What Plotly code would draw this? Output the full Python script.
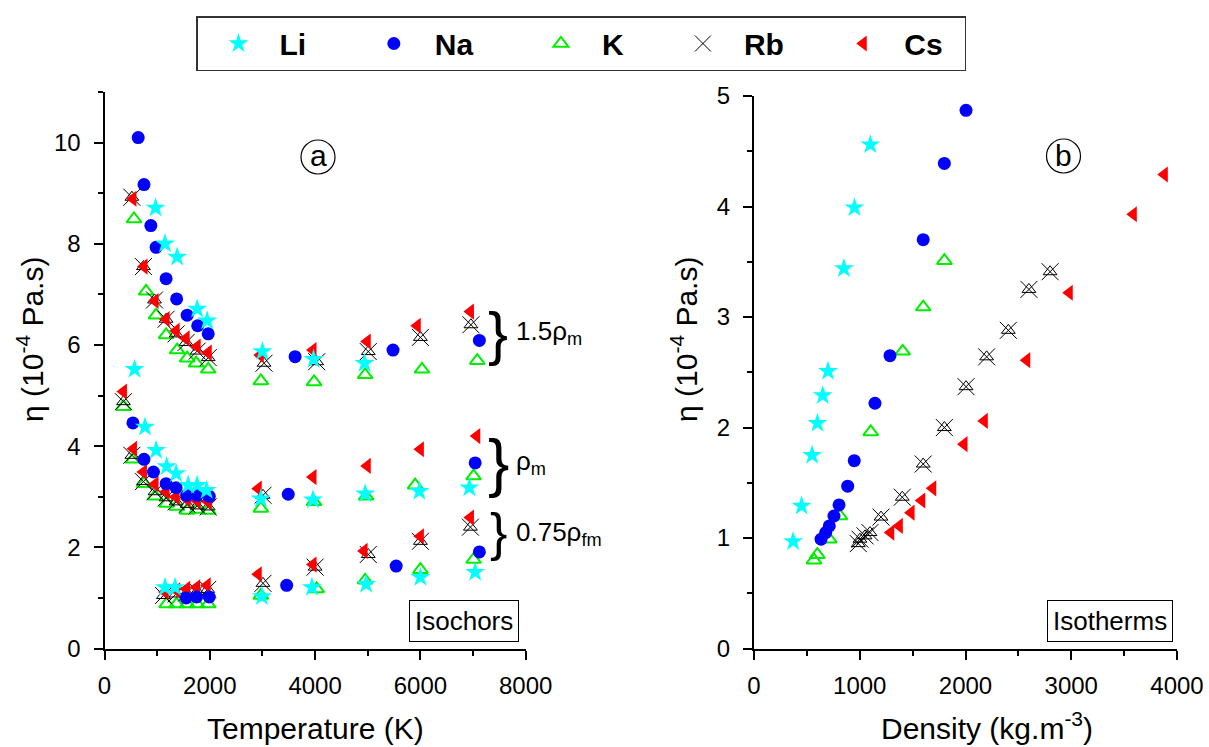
import plotly.graph_objects as go

W, H = 1209, 747

# ---------------- data: panel (a) isochors, eta (1e-4 Pa.s) vs T (K) -------------
li_T_hi = [970, 1150, 1380, 1760, 1950, 3000, 3970, 4940]
li_eta_hi = [8.71, 8.00, 7.74, 6.71, 6.48, 5.87, 5.72, 5.64]
na_T_hi = [640, 750, 880, 980, 1170, 1370, 1570, 1770, 1970, 3620, 5480, 7120]
na_eta_hi = [10.10, 9.17, 8.36, 7.93, 7.31, 6.91, 6.59, 6.38, 6.22, 5.77, 5.90, 6.09]
k_T_hi = [560, 790, 980, 1170, 1380, 1570, 1740, 1970, 2970, 3980, 4950, 6030, 7080]
k_eta_hi = [8.49, 7.06, 6.59, 6.20, 5.90, 5.74, 5.64, 5.52, 5.29, 5.27, 5.41, 5.52, 5.69]
rb_T_hi = [520, 740, 950, 1170, 1360, 1550, 1760, 1970, 3030, 4030, 5010, 6000, 6960]
rb_eta_hi = [8.92, 7.55, 6.89, 6.51, 6.22, 6.05, 5.88, 5.75, 5.64, 5.67, 5.87, 6.15, 6.40]
cs_T_hi = [540, 750, 960, 1170, 1360, 1550, 1760, 1970, 2960, 3960, 4990, 5940, 6950]
cs_eta_hi = [8.89, 7.55, 6.87, 6.51, 6.28, 6.13, 5.97, 5.85, 5.80, 5.90, 6.07, 6.38, 6.66]

li_T_mid = [570, 770, 980, 1180, 1360, 1590, 1760, 1940, 2970, 3960, 4950, 5980, 6930]
li_eta_mid = [5.52, 4.38, 3.92, 3.60, 3.46, 3.23, 3.23, 3.13, 2.96, 2.94, 3.06, 3.11, 3.18]
na_T_mid = [540, 750, 930, 1170, 1360, 1560, 1760, 1990, 3490, 7040]
na_eta_mid = [4.46, 3.74, 3.49, 3.26, 3.18, 3.03, 3.03, 3.01, 3.05, 3.67]
k_T_mid = [360, 540, 750, 960, 1180, 1370, 1570, 1760, 1970, 2970, 3980, 4970, 5900, 7010]
k_eta_mid = [4.78, 3.74, 3.26, 3.01, 2.87, 2.81, 2.73, 2.75, 2.73, 2.77, 2.90, 3.01, 3.23, 3.41]
rb_T_mid = [360, 520, 740, 960, 1170, 1360, 1570, 1760, 1970, 3010]
rb_eta_mid = [4.88, 3.82, 3.30, 3.10, 2.98, 2.90, 2.85, 2.82, 2.80, 3.03]
cs_T_mid = [360, 550, 740, 960, 1170, 1360, 1570, 1760, 1970, 2920, 3960, 4990, 6000, 7070]
cs_eta_mid = [5.08, 3.95, 3.49, 3.25, 3.10, 3.00, 2.95, 2.92, 2.90, 3.16, 3.39, 3.61, 3.94, 4.20]

li_T_lo = [1150, 1340, 2990, 3940, 4970, 6000, 7040]
li_eta_lo = [1.21, 1.21, 1.03, 1.21, 1.27, 1.41, 1.51]
na_T_lo = [1550, 1750, 1990, 3460, 5540, 7120]
na_eta_lo = [1.00, 1.02, 1.02, 1.25, 1.63, 1.91]
k_T_lo = [1180, 1370, 1570, 1760, 1970, 2970, 4030, 4950, 6000, 7010]
k_eta_lo = [0.88, 0.88, 0.88, 0.88, 0.88, 1.05, 1.18, 1.35, 1.56, 1.76]
rb_T_lo = [1120, 1360, 1560, 1760, 1960, 3010, 4000, 5010, 6000, 6950]
rb_eta_lo = [1.05, 1.08, 1.10, 1.13, 1.17, 1.29, 1.61, 1.86, 2.12, 2.40]
cs_T_lo = [1150, 1370, 1560, 1750, 1950, 2920, 3960, 4930, 6000, 6950]
cs_eta_lo = [1.12, 1.15, 1.18, 1.21, 1.25, 1.47, 1.66, 1.93, 2.22, 2.59]

# ---------------- data: panel (b) isotherms, eta vs density (kg/m3) ----------------
li_rho = [1100, 950, 850, 700, 650, 600, 550, 450, 370]
li_eta_b = [4.56, 3.99, 3.44, 2.51, 2.29, 2.04, 1.75, 1.29, 0.97]
na_rho = [2005, 1800, 1600, 1286, 1144, 948, 886, 804, 756, 712, 678, 634]
na_eta_b = [4.87, 4.39, 3.70, 2.65, 2.22, 1.70, 1.47, 1.30, 1.20, 1.11, 1.05, 0.99]
k_rho = [1800, 1600, 1406, 1104, 813, 712, 599, 567]
k_eta_b = [3.51, 3.09, 2.69, 1.96, 1.20, 0.99, 0.85, 0.80]
rb_rho = [2800, 2600, 2405, 2200, 2005, 1800, 1600, 1402, 1201, 1097, 1050, 1002, 986]
rb_eta_b = [3.41, 3.25, 2.88, 2.64, 2.37, 2.00, 1.67, 1.37, 1.19, 1.05, 1.02, 0.99, 0.95]
cs_rho = [3880, 3587, 2981, 2579, 2178, 1986, 1690, 1586, 1485, 1374, 1293]
cs_eta_b = [4.29, 3.93, 3.22, 2.61, 2.06, 1.85, 1.45, 1.34, 1.23, 1.11, 1.05]

species = ["Li", "Na", "K", "Rb", "Cs"]

FONT = "Arial, Liberation Sans, sans-serif"

def px(x):
    return x / W

def py(y):
    return 1 - y / H

styles = {
    "Li": dict(symbol="star", color="#00ffff", size=15, line=dict(width=0)),
    "Na": dict(symbol="circle", color="#0000ff", size=13, line=dict(width=0)),
    "K": dict(symbol="triangle-up-open", color="#00ee00", size=13, line=dict(width=2, color="#00ee00")),
    "Rb": dict(symbol="triangle-up-open", color="black", size=12, line=dict(width=1, color="black")),
    "Cs": dict(symbol="triangle-left", color="#ff0000", size=14, line=dict(width=0)),
}
rb_x_style = dict(symbol="x-thin-open", color="black", size=17, line=dict(width=1, color="black"))

data_a = {
    "Li": (li_T_hi + li_T_mid + li_T_lo, li_eta_hi + li_eta_mid + li_eta_lo),
    "Na": (na_T_hi + na_T_mid + na_T_lo, na_eta_hi + na_eta_mid + na_eta_lo),
    "K": (k_T_hi + k_T_mid + k_T_lo, k_eta_hi + k_eta_mid + k_eta_lo),
    "Rb": (rb_T_hi + rb_T_mid + rb_T_lo, rb_eta_hi + rb_eta_mid + rb_eta_lo),
    "Cs": (cs_T_hi + cs_T_mid + cs_T_lo, cs_eta_hi + cs_eta_mid + cs_eta_lo),
}
data_b = {
    "Li": (li_rho, li_eta_b),
    "Na": (na_rho, na_eta_b),
    "K": (k_rho, k_eta_b),
    "Rb": (rb_rho, rb_eta_b),
    "Cs": (cs_rho, cs_eta_b),
}

fig = go.Figure()
draw_order = ["K", "Rb", "Cs", "Na", "Li"]
rank = {s: i for i, s in enumerate(species)}
pad = {"Li": "\u00a0" * 5, "Na": "\u00a0" * 5, "K": "\u00a0" * 4, "Rb": "\u00a0" * 4, "Cs": "\u00a0" * 2}

for panel, data, xa, ya in (("a", data_a, "x", "y"), ("b", data_b, "x2", "y2")):
    for s in draw_order:
        xs, ys = data[s]
        fig.add_trace(go.Scatter(
            x=xs, y=ys, mode="markers", xaxis=xa, yaxis=ya,
            name="<b>" + s + "</b>" + pad[s], legendgroup=s, legendrank=rank[s],
            showlegend=(panel == "a" and s != "Rb"),
            marker=styles[s], cliponaxis=False,
        ))
        if s == "Rb":
            fig.add_trace(go.Scatter(
                x=xs, y=ys, mode="markers", xaxis=xa, yaxis=ya,
                name="<b>" + s + "</b>" + pad[s], legendgroup=s, legendrank=rank[s],
                showlegend=(panel == "a"), marker=rb_x_style, cliponaxis=False,
            ))

ydom = [py(648.6), py(92)]
ydom2 = [py(648.6), py(96)]
axis_common = dict(
    showline=True, linecolor="black", linewidth=2, mirror=False,
    ticks="outside", ticklen=9, tickwidth=2, tickcolor="black",
    showgrid=False, zeroline=False,
    tickfont=dict(family=FONT, size=24, color="black"),
)

fig.update_layout(
    width=W, height=H, autosize=False,
    margin=dict(l=0, r=0, t=0, b=0, autoexpand=False),
    paper_bgcolor="white", plot_bgcolor="white",
    font=dict(family=FONT, color="black"),
    xaxis=dict(domain=[px(104.5), px(525.7)], range=[0, 8000], anchor="y",
               tickvals=[0, 2000, 4000, 6000, 8000], ticklabelstandoff=6,
               minor=dict(dtick=1000, ticks="outside", ticklen=5, tickwidth=2, tickcolor="black"),
               **axis_common),
    yaxis=dict(domain=ydom, range=[0, 11], anchor="x",
               tickvals=[0, 2, 4, 6, 8, 10], ticklabelstandoff=8,
               minor=dict(dtick=1, ticks="outside", ticklen=5, tickwidth=2, tickcolor="black"),
               **axis_common),
    xaxis2=dict(domain=[px(754), px(1177)], range=[0, 4000], anchor="y2",
                tickvals=[0, 1000, 2000, 3000, 4000], ticklabelstandoff=6,
                minor=dict(dtick=500, ticks="outside", ticklen=5, tickwidth=2, tickcolor="black"),
                **axis_common),
    yaxis2=dict(domain=ydom2, range=[0, 5], anchor="x2",
                tickvals=[0, 1, 2, 3, 4, 5], ticklabelstandoff=8,
                minor=dict(dtick=0.5, ticks="outside", ticklen=5, tickwidth=2, tickcolor="black"),
                **axis_common),
    legend=dict(
        orientation="h", x=px(196), y=py(16), xanchor="left", yanchor="top",
        bordercolor="#333333", borderwidth=1.5, bgcolor="white",
        font=dict(family=FONT, size=30, color="black"),
        itemwidth=72, traceorder="normal",
    ),
    showlegend=True,
)

def note(text, x, y, size, **kw):
    d = dict(text=text, x=px(x), y=py(y), xref="paper", yref="paper", showarrow=False,
             xanchor="center", yanchor="middle", font=dict(size=size, family=FONT, color="black"))
    d.update(kw)
    return d

ann = []
# axis titles
ann.append(note("Temperature (K)", 315, 728, 30))
ann.append(note("Density (kg.m<sup>-3</sup>)", 987, 726, 30))
for xt in (30, 684):
    ann.append(note("\u03b7 (10<sup>-4</sup> Pa.s)", xt, 340, 30, textangle=-90))
# panel letters
ann.append(note("a", 318, 155, 30))
ann.append(note("b", 1063.5, 155, 30))
# boxes
ann.append(note("Isochors", 463.5, 620.5, 26, bordercolor="black", borderwidth=1, borderpad=5,
                bgcolor="white"))
ann.append(note("Isotherms", 1109.5, 620.5, 26, bordercolor="black", borderwidth=1, borderpad=5,
                bgcolor="white"))
# braces and group labels
for by, size, label, ly in ((333, 60, "1.5\u03c1<sub>m</sub>", 332),
                            (463, 64, "\u03c1<sub>m</sub>", 462),
                            (532, 52, "0.75\u03c1<sub>fm</sub>", 533)):
    ann.append(note("}", 498, by, size))
    ann.append(note(label, 514, ly, 26, xanchor="left"))
fig.update_layout(annotations=ann)

shapes = []
for cx, cy in ((318, 157), (1063.5, 156)):
    shapes.append(dict(type="circle", xref="paper", yref="paper",
                       x0=px(cx - 17), x1=px(cx + 17), y0=py(cy + 17), y1=py(cy - 17),
                       line=dict(color="black", width=1.2)))
fig.update_layout(shapes=shapes)

fig.write_html(
    "out.html",
    config={"displayModeBar": False},
    post_script="document.body.style.margin='0';document.body.style.overflow='hidden';"
                "document.documentElement.style.overflow='hidden';",
)
